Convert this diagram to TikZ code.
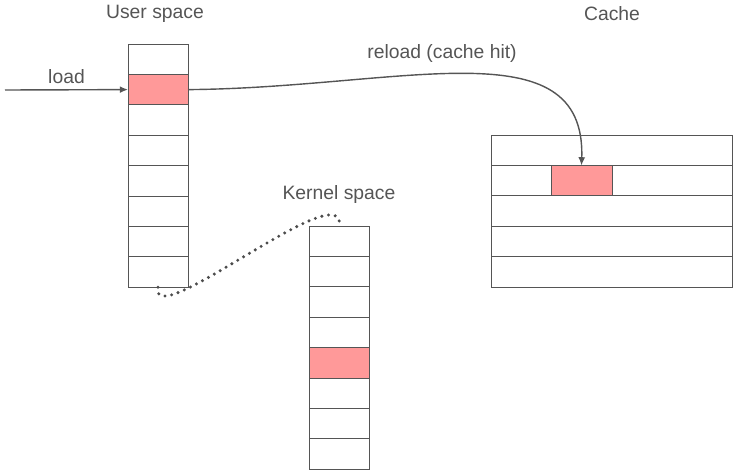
\documentclass[tikz,border=0pt]{standalone}
\usepackage{fontspec}
\setmainfont{Liberation Sans}
\usetikzlibrary{arrows.meta}
\definecolor{linegray}{HTML}{555555}
\definecolor{hitred}{HTML}{FF9999}

\begin{document}
\begin{tikzpicture}[x=0.03cm, y=-0.03cm,
    every node/.style={font=\fontsize{16.5}{19}\selectfont, text=linegray},
    cell/.style={draw=linegray, fill=white, line width=0.8pt, inner sep=0pt, outer sep=0pt,
                 minimum width=1.8cm, minimum height=0.912cm},
    wide/.style={cell, minimum width=7.23cm},
    hit/.style={fill=hitred},
    flow/.style={draw=linegray, line width=1.2pt, -{Latex[length=7pt, width=6pt]}}]
    \useasboundingbox (0,0) rectangle (733,470);
    % user space column
    \foreach \i in {0,...,7}
        \node[cell] (u\i) at (158, 44+30.4*\i+15.2) {};
    \node[cell, hit] (u1) at (158, 44+30.4+15.2) {};
    % kernel space column
    \foreach \i in {0,...,7}
        \node[cell] (k\i) at (339.5, 226+30.4*\i+15.2) {};
    \node[cell, hit] (k4) at (339.5, 226+30.4*4+15.2) {};
    % cache
    \foreach \i in {0,...,4}
        \node[wide] (c\i) at (611.5, 135+30.4*\i+15.2) {};
    \node[cell, hit, minimum width=1.83cm] (hit) at (581.5, 135+30.4+15.2) {};
    % labels
    \node (US) at (155, 14) {User space};
    \node (CA) at (612, 14) {Cache};
    \node (KS) at (339, 194) {Kernel space};
    \node (RL) at (442, 53) {reload (cache hit)};
    \coordinate (in) at (5, 90);
    \draw [flow] (in) -- node [above, yshift=1pt] {load} (u1.west);
    \draw [flow] (u1.east) .. controls (400, 88) and (586, 25) .. (hit.north);
    \draw [draw=linegray!90!black, line width=2.9pt, line cap=round, dash pattern=on 0pt off 5.8pt]
        (u7.south) .. controls (150, 335) and (345, 172) .. (k0.north);
\end{tikzpicture}
\end{document}
